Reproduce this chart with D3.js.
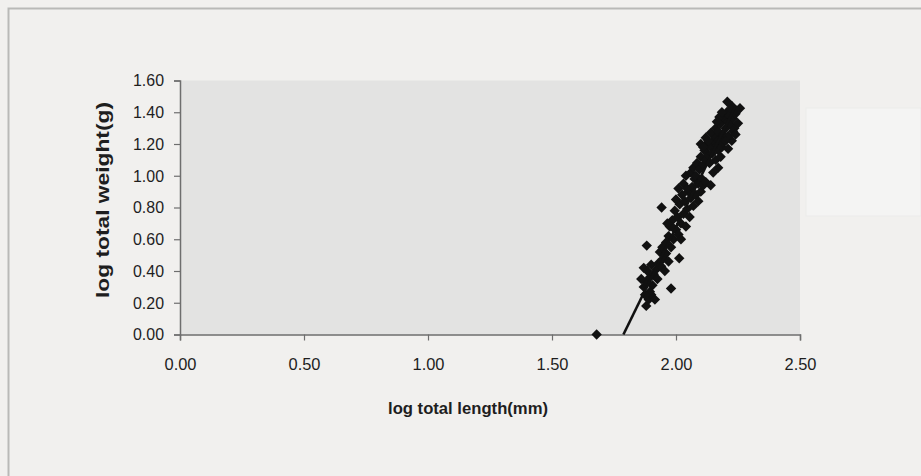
<!DOCTYPE html>
<html>
<head>
<meta charset="utf-8">
<script src="https://cdn.jsdelivr.net/npm/d3@7"></script>
<style>
  html, body { margin: 0; padding: 0; background: #f1f0ee; }
  svg { display: block; }
  text { font-family: "Liberation Sans", Arial, sans-serif; }
</style>
</head>
<body>
<svg id="chart" width="921" height="476"></svg>
<script>
// ---- data ----
const xTicks = [0.00, 0.50, 1.00, 1.50, 2.00, 2.50];
const yTicks = [0.00, 0.20, 0.40, 0.60, 0.80, 1.00, 1.20, 1.40, 1.60];
const xTitle = "log total length(mm)";
const yTitle = "log total weight(g)";

// observations: [log total length, log total weight]
const logLength = [
  1.68,
  1.88, 1.89, 1.90, 1.915, 1.87, 1.88, 1.895, 1.87, 1.885, 1.90, 1.91, 1.92, 1.93, 1.905, 1.925, 1.94, 1.95, 1.935, 1.98, 1.882, 1.955, 1.96, 1.945, 2.013, 1.97, 1.895, 1.86, 1.875,
  1.96, 1.97, 1.98, 1.99, 1.975, 1.985, 2.00, 2.01, 2.02, 1.995, 2.005, 2.015, 2.03, 2.04, 2.025, 2.035, 2.045, 2.05, 2.06, 2.055, 2.07, 1.942, 2.00, 2.01, 2.03, 1.965, 2.065, 2.08, 2.075, 2.04, 2.09, 1.99, 2.02, 2.045, 2.10, 2.11,
  2.06, 2.07, 2.08, 2.085, 2.095, 2.10, 2.11, 2.105, 2.12, 2.115, 2.125, 2.13, 2.14, 2.135, 2.15, 2.145, 2.16, 2.155, 2.165, 2.17, 2.09, 2.10, 2.12, 2.175, 2.18, 2.185, 2.14, 2.13, 2.11, 2.21, 2.225, 2.17, 2.15, 2.12, 2.14,
  2.16, 2.17, 2.18, 2.19, 2.20, 2.195, 2.21, 2.205, 2.215, 2.22, 2.225, 2.207, 2.258, 2.23, 2.24, 2.235, 2.25, 2.245, 2.19, 2.21, 2.23, 2.20, 2.175, 2.22, 2.24, 2.185, 2.165
];
const logWeight = [
  0.00,
  0.18, 0.22, 0.25, 0.22, 0.30, 0.33, 0.36, 0.42, 0.40, 0.44, 0.38, 0.41, 0.45, 0.31, 0.35, 0.43, 0.48, 0.52, 0.29, 0.56, 0.40, 0.51, 0.55, 0.48, 0.46, 0.27, 0.35, 0.25,
  0.58, 0.62, 0.55, 0.60, 0.68, 0.72, 0.66, 0.63, 0.70, 0.78, 0.74, 0.82, 0.76, 0.68, 0.88, 0.84, 0.79, 0.90, 0.86, 0.74, 0.81, 0.80, 0.85, 0.92, 0.95, 0.70, 0.93, 0.88, 0.98, 1.00, 0.84, 0.67, 0.60, 0.92, 0.90, 0.94,
  1.02, 1.05, 1.00, 1.08, 1.04, 1.12, 1.07, 0.98, 1.10, 1.16, 1.20, 1.13, 1.18, 1.08, 1.22, 1.14, 1.10, 1.25, 1.19, 1.16, 0.95, 1.20, 1.24, 1.23, 1.12, 1.18, 1.27, 1.22, 1.18, 1.17, 1.22, 1.05, 1.02, 0.96, 0.94,
  1.30, 1.28, 1.33, 1.26, 1.30, 1.36, 1.34, 1.40, 1.38, 1.32, 1.44, 1.466, 1.425, 1.36, 1.39, 1.30, 1.33, 1.41, 1.21, 1.25, 1.28, 1.22, 1.37, 1.42, 1.26, 1.40, 1.34
];

// linear trendline, drawn between two points and clipped at the axis
const trendX = [1.788, 2.24];
const trendY = [0.00, 1.44];

// ---- drawing ----
const svg = d3.select("#chart");
const W = 921, H = 476;
const plot = { left: 180, right: 800, top: 80.5, bottom: 334.5 };

// page (scan) background and edge
svg.append("rect").attr("x", 0).attr("y", 0).attr("width", W).attr("height", H).attr("fill", "#f1f0ee");
svg.append("path")
  .attr("d", `M8.5,${H} L8.5,8.5 L${W},8.5`)
  .attr("fill", "none").attr("stroke", "#b9b9b7").attr("stroke-width", 2);
// faint show-through box at the right of the plot
svg.append("rect").attr("x", 806).attr("y", 108).attr("width", 115).attr("height", 108)
  .attr("fill", "#f4f4f3").attr("stroke", "#ecebea");

const x = d3.scaleLinear().domain([0, 2.5]).range([plot.left, plot.right]);
const y = d3.scaleLinear().domain([0, 1.6]).range([plot.bottom, plot.top]);

// plot area
svg.append("rect")
  .attr("x", x(0)).attr("y", y(1.6))
  .attr("width", x(2.5) - x(0)).attr("height", y(0) - y(1.6))
  .attr("fill", "#e3e3e2");

const fmt = d3.format(".2f");

const gx = svg.append("g").attr("transform", `translate(0,${y(0)})`)
  .call(d3.axisBottom(x).tickValues(xTicks).tickFormat(fmt).tickSize(6).tickSizeOuter(6).tickPadding(17));
const gy = svg.append("g").attr("transform", `translate(${x(0)},0)`)
  .call(d3.axisLeft(y).tickValues(yTicks).tickFormat(fmt).tickSize(6).tickSizeOuter(6).tickPadding(10));

[gx, gy].forEach(g => {
  g.select(".domain").attr("stroke", "#6e6e6e").attr("stroke-width", 1.5);
  g.selectAll(".tick line").attr("stroke", "#6e6e6e").attr("stroke-width", 1.2);
  g.selectAll(".tick text").attr("fill", "#1e1e1e").attr("font-size", 17)
    .attr("font-family", "'Liberation Sans', Arial, sans-serif");
});
gx.selectAll(".tick text").attr("textLength", 32).attr("lengthAdjust", "spacingAndGlyphs");
gy.selectAll(".tick text").attr("textLength", 31).attr("lengthAdjust", "spacingAndGlyphs");

// clip to plot area for line
svg.append("clipPath").attr("id", "clip")
  .append("rect").attr("x", x(0)).attr("y", y(1.6)).attr("width", x(2.5) - x(0)).attr("height", y(0) - y(1.6) + 1);

// points
const pts = d3.zip(logLength, logWeight);
svg.append("g").selectAll("path").data(pts).join("path")
  .attr("d", d3.symbol(d3.symbolSquare, 54)())
  .attr("transform", d => `translate(${x(d[0])},${y(d[1])}) rotate(45)`)
  .attr("fill", "#111");

// trendline
svg.append("path")
  .datum(d3.zip(trendX, trendY))
  .attr("clip-path", "url(#clip)")
  .attr("d", d3.line().x(d => x(d[0])).y(d => y(d[1])))
  .attr("stroke", "#111").attr("stroke-width", 2.6).attr("fill", "none");

// axis titles
svg.append("text")
  .attr("x", 468).attr("y", 414)
  .attr("text-anchor", "middle").attr("font-weight", "bold").attr("font-size", 17)
  .attr("textLength", 160).attr("lengthAdjust", "spacingAndGlyphs")
  .attr("fill", "#1e1e1e").text(xTitle);

svg.append("text")
  .attr("transform", `translate(109,200) rotate(-90)`)
  .attr("text-anchor", "middle").attr("font-weight", "bold").attr("font-size", 18)
  .attr("textLength", 196).attr("lengthAdjust", "spacingAndGlyphs")
  .attr("fill", "#1e1e1e").text(yTitle);
</script>
</body>
</html>
